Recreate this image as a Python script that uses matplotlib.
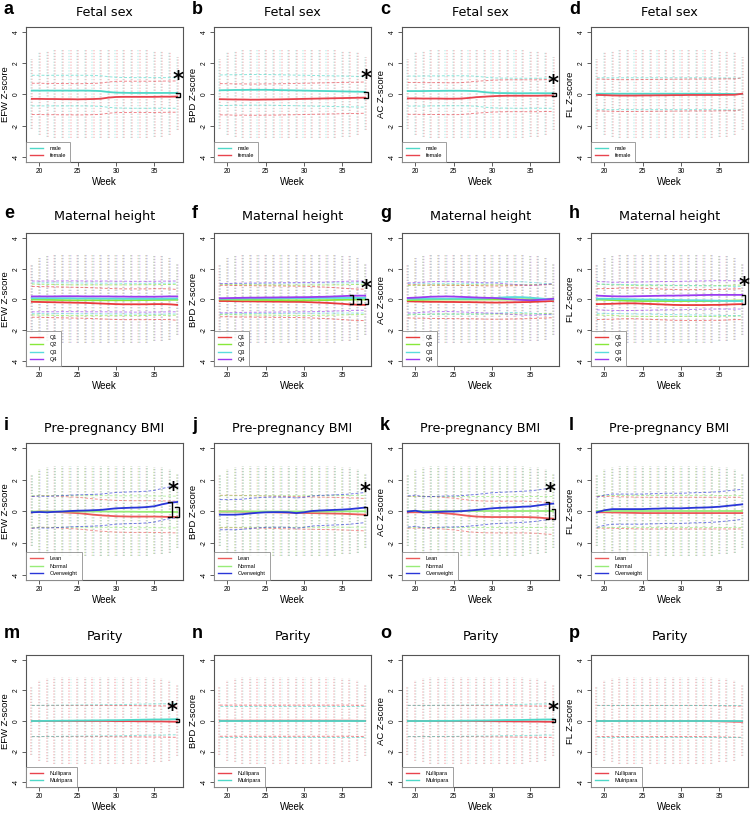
import numpy as np
import matplotlib
matplotlib.use('Agg')
import matplotlib.pyplot as plt

# ---------------- data ----------------
weeks = list(range(19, 39))
x_ticks = [20, 25, 30, 35]
y_ticks = [-4, -2, 0, 2, 4]
row_titles = ['Fetal sex', 'Maternal height', 'Pre-pregnancy BMI', 'Parity']
col_ylabels = ['EFW Z-score', 'BPD Z-score', 'AC Z-score', 'FL Z-score']
panel_letters = list('abcdefghijklmnop')

sex_labels = ['male', 'female']
height_labels = ['Q1', 'Q2', 'Q3', 'Q4']
bmi_labels = ['Lean', 'Normal', 'Overweight']
parity_labels = ['Nullipara', 'Mulripara']

sex_colors = ['#4FD8C8', '#E8444E']
height_colors = ['#E83A3A', '#88E83A', '#5ADCDC', '#9A3CF0']
bmi_colors = ['#EC5A5A', '#98EC78', '#2A36D8']
parity_colors = ['#E8444E', '#4FD8C8']

# extent of the per-week columns of individual measurements
dot_hi = [2.3, 2.7, 2.8, 2.9, 2.9, 2.9, 2.9, 2.9, 2.9, 2.9, 2.9, 2.9, 2.9, 2.9, 2.9, 2.9, 2.8, 2.8, 2.7, 2.4]
dot_lo = [-2.2, -2.6, -2.7, -2.8, -2.8, -2.8, -2.8, -2.8, -2.8, -2.8, -2.8, -2.8, -2.8, -2.8, -2.8, -2.8, -2.7, -2.7, -2.6, -2.3]

# --- Fetal sex ---
a_male = [0.25, 0.25, 0.25, 0.25, 0.25, 0.25, 0.25, 0.25, 0.24, 0.22, 0.16, 0.12, 0.11, 0.10, 0.10, 0.10, 0.10, 0.10, 0.10, 0.10]
a_female = [-0.28, -0.28, -0.29, -0.29, -0.30, -0.30, -0.31, -0.30, -0.29, -0.27, -0.20, -0.16, -0.15, -0.15, -0.15, -0.15, -0.15, -0.14, -0.14, -0.13]
a_sd = [0.98, 1.0]
b_male = [0.27, 0.28, 0.29, 0.29, 0.30, 0.30, 0.30, 0.29, 0.28, 0.27, 0.26, 0.25, 0.24, 0.23, 0.22, 0.21, 0.20, 0.19, 0.18, 0.17]
b_female = [-0.30, -0.31, -0.32, -0.32, -0.33, -0.33, -0.32, -0.32, -0.31, -0.30, -0.29, -0.28, -0.27, -0.26, -0.25, -0.24, -0.23, -0.22, -0.21, -0.20]
b_sd = [0.98, 1.0]
c_male = [0.22, 0.22, 0.22, 0.23, 0.23, 0.24, 0.24, 0.24, 0.23, 0.21, 0.15, 0.11, 0.09, 0.09, 0.08, 0.08, 0.08, 0.08, 0.08, 0.08]
c_female = [-0.25, -0.25, -0.26, -0.26, -0.26, -0.27, -0.27, -0.26, -0.22, -0.17, -0.14, -0.11, -0.09, -0.08, -0.08, -0.08, -0.08, -0.08, -0.07, -0.07]
c_sd = [0.96, 1.02]
d_male = [0.05, 0.05, 0.05, 0.05, 0.05, 0.05, 0.05, 0.05, 0.05, 0.05, 0.05, 0.05, 0.05, 0.05, 0.05, 0.05, 0.04, 0.04, 0.03, 0.03]
d_female = [-0.03, -0.04, -0.06, -0.07, -0.07, -0.07, -0.06, -0.06, -0.05, -0.05, -0.04, -0.04, -0.03, -0.03, -0.03, -0.03, -0.03, -0.02, -0.02, 0.05]
d_sd = [1.02, 1.02]

# --- Maternal height (Q1..Q4) ---
e_q1 = [-0.15, -0.16, -0.17, -0.18, -0.19, -0.20, -0.21, -0.22, -0.24, -0.26, -0.28, -0.30, -0.31, -0.31, -0.31, -0.31, -0.30, -0.30, -0.31, -0.35]
e_q2 = [0.00, -0.01, -0.02, -0.03, -0.04, -0.05, -0.05, -0.05, -0.05, -0.05, -0.05, -0.05, -0.05, -0.05, -0.04, -0.04, -0.03, -0.03, -0.02, -0.02]
e_q3 = [0.08, 0.08, 0.08, 0.08, 0.08, 0.08, 0.07, 0.07, 0.07, 0.06, 0.06, 0.06, 0.05, 0.05, 0.05, 0.05, 0.05, 0.05, 0.06, 0.06]
e_q4 = [0.20, 0.20, 0.20, 0.20, 0.21, 0.21, 0.21, 0.20, 0.20, 0.20, 0.20, 0.19, 0.19, 0.18, 0.18, 0.18, 0.18, 0.19, 0.20, 0.20]
e_sd = [1.0, 1.0, 1.0, 1.0]
f_q1 = [-0.10, -0.10, -0.11, -0.12, -0.12, -0.13, -0.13, -0.14, -0.14, -0.15, -0.15, -0.16, -0.18, -0.20, -0.22, -0.25, -0.28, -0.32, -0.34, -0.35]
f_q2 = [0.00, 0.00, -0.01, -0.02, -0.02, -0.03, -0.03, -0.04, -0.04, -0.05, -0.05, -0.05, -0.05, -0.04, -0.04, -0.03, -0.02, -0.01, 0.00, 0.00]
f_q3 = [0.05, 0.05, 0.06, 0.06, 0.07, 0.07, 0.08, 0.08, 0.08, 0.09, 0.09, 0.09, 0.09, 0.10, 0.10, 0.10, 0.10, 0.10, 0.10, 0.10]
f_q4 = [0.08, 0.09, 0.10, 0.11, 0.12, 0.12, 0.13, 0.13, 0.14, 0.14, 0.15, 0.15, 0.16, 0.17, 0.18, 0.20, 0.22, 0.24, 0.25, 0.25]
f_sd = [1.02, 0.98, 0.98, 0.95]
g_q1 = [-0.12, -0.13, -0.14, -0.15, -0.15, -0.16, -0.16, -0.17, -0.17, -0.18, -0.19, -0.20, -0.20, -0.19, -0.18, -0.17, -0.16, -0.14, -0.12, -0.10]
g_q2 = [-0.05, -0.03, -0.02, -0.01, 0.00, 0.00, 0.00, 0.00, 0.00, 0.00, 0.00, 0.00, 0.00, 0.00, 0.01, 0.01, 0.02, 0.03, 0.04, 0.05]
g_q3 = [0.05, 0.05, 0.05, 0.05, 0.05, 0.05, 0.05, 0.05, 0.05, 0.05, 0.06, 0.08, 0.12, 0.15, 0.16, 0.15, 0.12, 0.08, 0.04, 0.00]
g_q4 = [0.10, 0.12, 0.15, 0.18, 0.19, 0.20, 0.19, 0.17, 0.15, 0.13, 0.11, 0.10, 0.07, 0.03, 0.00, -0.03, -0.05, -0.03, 0.00, 0.05]
g_sd = [1.08, 0.95, 1.0, 0.98]
h_q1 = [-0.30, -0.29, -0.28, -0.26, -0.25, -0.25, -0.27, -0.29, -0.31, -0.33, -0.35, -0.36, -0.36, -0.36, -0.36, -0.35, -0.35, -0.33, -0.31, -0.30]
h_q2 = [0.00, -0.02, -0.04, -0.06, -0.08, -0.09, -0.10, -0.10, -0.10, -0.10, -0.10, -0.10, -0.10, -0.10, -0.10, -0.10, -0.09, -0.08, -0.07, -0.06]
h_q3 = [0.05, 0.05, 0.04, 0.03, 0.02, 0.01, 0.00, 0.00, -0.01, -0.02, -0.03, -0.04, -0.05, -0.05, -0.06, -0.07, -0.08, -0.09, -0.10, -0.10]
h_q4 = [0.25, 0.23, 0.21, 0.20, 0.20, 0.21, 0.22, 0.23, 0.24, 0.25, 0.25, 0.26, 0.27, 0.28, 0.29, 0.30, 0.30, 0.30, 0.30, 0.30]
h_sd = [1.0, 1.0, 0.95, 0.92]

# --- Pre-pregnancy BMI (Lean, Normal, Overweight) ---
i_lean = [-0.05, 0.00, 0.00, -0.02, -0.05, -0.08, -0.10, -0.15, -0.20, -0.24, -0.27, -0.30, -0.31, -0.32, -0.32, -0.32, -0.32, -0.33, -0.34, -0.35]
i_normal = [0.00, 0.00, 0.00, 0.00, 0.00, 0.00, 0.00, 0.00, 0.00, 0.00, 0.00, -0.01, -0.01, -0.01, -0.02, -0.02, -0.02, -0.03, -0.03, -0.03]
i_over = [-0.05, -0.03, -0.05, -0.02, 0.00, 0.03, 0.05, 0.06, 0.08, 0.10, 0.15, 0.20, 0.22, 0.24, 0.25, 0.28, 0.33, 0.45, 0.55, 0.60]
i_sd = [1.0, 1.0, 1.0]
j_lean = [0.00, 0.00, 0.00, -0.01, -0.02, -0.03, -0.04, -0.05, -0.06, -0.07, -0.08, -0.09, -0.10, -0.11, -0.12, -0.13, -0.14, -0.16, -0.18, -0.20]
j_normal = [0.00, 0.00, 0.00, 0.00, 0.00, 0.00, 0.00, 0.00, 0.00, 0.00, 0.00, 0.00, 0.00, 0.00, 0.00, 0.01, 0.01, 0.01, 0.01, 0.01]
j_over = [-0.20, -0.20, -0.20, -0.17, -0.12, -0.08, -0.05, -0.04, -0.04, -0.05, -0.10, -0.05, 0.03, 0.06, 0.08, 0.10, 0.12, 0.15, 0.20, 0.25]
j_sd = [1.02, 1.0, 0.95]
k_lean = [-0.05, -0.05, -0.05, -0.05, -0.08, -0.12, -0.16, -0.22, -0.28, -0.32, -0.34, -0.35, -0.35, -0.35, -0.35, -0.35, -0.36, -0.38, -0.42, -0.45]
k_normal = [0.00, 0.00, 0.00, 0.00, 0.00, 0.00, 0.00, 0.00, 0.00, 0.00, 0.00, 0.00, 0.00, 0.00, 0.00, 0.00, 0.00, 0.00, 0.00, 0.00]
k_over = [0.00, 0.05, -0.05, -0.04, -0.02, 0.00, 0.00, 0.02, 0.06, 0.10, 0.15, 0.20, 0.23, 0.25, 0.27, 0.30, 0.32, 0.38, 0.45, 0.50]
k_sd = [1.0, 1.0, 0.98]
l_lean = [-0.05, -0.05, -0.06, -0.07, -0.08, -0.09, -0.10, -0.10, -0.10, -0.10, -0.10, -0.10, -0.10, -0.10, -0.10, -0.10, -0.10, -0.10, -0.10, -0.10]
l_normal = [0.02, 0.02, 0.02, 0.02, 0.02, 0.02, 0.02, 0.02, 0.02, 0.02, 0.02, 0.02, 0.02, 0.02, 0.02, 0.02, 0.02, 0.02, 0.02, 0.02]
l_over = [-0.05, 0.08, 0.15, 0.15, 0.15, 0.15, 0.15, 0.17, 0.18, 0.20, 0.20, 0.20, 0.22, 0.24, 0.25, 0.27, 0.30, 0.35, 0.40, 0.45]
l_sd = [1.0, 1.0, 0.95]

# --- Parity (Nullipara, Multipara) ---
m_null = [0.00, 0.00, 0.00, 0.00, 0.00, 0.00, 0.00, 0.00, 0.00, 0.00, 0.00, -0.01, -0.01, -0.01, -0.02, -0.02, -0.03, -0.03, -0.04, -0.05]
m_multi = [0.00, 0.00, 0.01, 0.01, 0.02, 0.02, 0.03, 0.03, 0.04, 0.04, 0.05, 0.05, 0.06, 0.07, 0.08, 0.09, 0.10, 0.10, 0.11, 0.12]
m_sd = [1.02, 1.02]
n_null = [0.02, 0.02, 0.02, 0.02, 0.02, 0.02, 0.02, 0.02, 0.02, 0.02, 0.02, 0.02, 0.02, 0.02, 0.02, 0.02, 0.02, 0.02, 0.01, 0.01]
n_multi = [-0.01, -0.01, -0.01, -0.01, -0.01, -0.01, -0.01, -0.01, -0.01, -0.01, -0.01, -0.01, -0.01, -0.01, -0.01, -0.01, -0.01, -0.01, -0.01, -0.01]
n_sd = [1.02, 1.02]
o_null = [0.00, 0.00, 0.00, 0.00, 0.00, 0.00, 0.00, 0.00, 0.00, 0.00, -0.01, -0.01, -0.02, -0.02, -0.03, -0.03, -0.04, -0.04, -0.05, -0.05]
o_multi = [0.00, 0.00, 0.00, 0.00, 0.01, 0.01, 0.01, 0.02, 0.02, 0.03, 0.03, 0.04, 0.05, 0.06, 0.06, 0.07, 0.08, 0.09, 0.10, 0.10]
o_sd = [1.02, 1.02]
p_null = [0.00, 0.00, 0.00, 0.00, 0.00, 0.00, 0.00, 0.00, 0.00, 0.00, 0.00, 0.00, 0.00, 0.00, 0.00, -0.01, -0.02, -0.03, -0.04, -0.05]
p_multi = [0.00, 0.00, 0.00, 0.00, 0.00, 0.00, 0.00, 0.00, 0.00, 0.00, 0.00, 0.00, 0.00, 0.00, 0.00, 0.00, 0.00, 0.00, 0.00, 0.00]
p_sd = [1.02, 1.02]

# significance annotations: brackets (week, top, bottom) and star (week, z)
brackets = {
    'a': [(38.35, 0.10, -0.13)], 'b': [(38.35, 0.17, -0.20)], 'c': [(38.35, 0.08, -0.07)],
    'f': [(36.4, 0.28, -0.32), (37.4, 0.06, -0.32), (38.4, 0.0, -0.32)],
    'h': [(38.4, 0.30, -0.30)],
    'i': [(37.3, 0.57, -0.35), (38.2, 0.27, -0.37)],
    'j': [(38.3, 0.30, -0.22)],
    'k': [(37.5, 0.60, -0.45), (38.25, 0.15, -0.45)],
    'm': [(38.3, 0.14, -0.06)], 'o': [(38.3, 0.11, -0.06)],
}
stars = {'a': (38.1, 0.95), 'b': (38.1, 1.0), 'c': (38.0, 0.7), 'f': (38.1, 0.65),
         'h': (38.2, 0.9), 'i': (37.5, 1.3), 'j': (38.0, 1.2), 'k': (37.6, 1.25),
         'm': (37.3, 0.68), 'o': (38.0, 0.65)}

# ---------------- assemble panels ----------------
rows = [
    (sex_labels, sex_colors, [(a_male, a_female, a_sd), (b_male, b_female, b_sd),
                              (c_male, c_female, c_sd), (d_male, d_female, d_sd)]),
    (height_labels, height_colors, [(e_q1, e_q2, e_q3, e_q4, e_sd), (f_q1, f_q2, f_q3, f_q4, f_sd),
                                    (g_q1, g_q2, g_q3, g_q4, g_sd), (h_q1, h_q2, h_q3, h_q4, h_sd)]),
    (bmi_labels, bmi_colors, [(i_lean, i_normal, i_over, i_sd), (j_lean, j_normal, j_over, j_sd),
                              (k_lean, k_normal, k_over, k_sd), (l_lean, l_normal, l_over, l_sd)]),
    (parity_labels, parity_colors, [(m_null, m_multi, m_sd), (n_null, n_multi, n_sd),
                                    (o_null, o_multi, o_sd), (p_null, p_multi, p_sd)]),
]
dot_alpha = [[0.26, 0.26], [0.18, 0.18, 0.18, 0.18], [0.16, 0.42, 0.14], [0.3, 0.16]]

W, H = 754, 813
fig = plt.figure(figsize=(W / 100, H / 100), dpi=100)
col_left = [26, 214, 402, 591]
col_w = 157
row_top = [27, 233, 443, 655]
row_h = [135, 133, 137, 132]
title_pad = [8, 9.5, 8, 11]

axfont = 'Liberation Sans'
wk = np.array(weeks, dtype=float)

for r, (labels, colors, panels) in enumerate(rows):
    for c, pdata in enumerate(panels):
        letter = panel_letters[r * 4 + c]
        means = pdata[:-1]
        sds = pdata[-1]
        ax = fig.add_axes([col_left[c] / W, 1 - (row_top[r] + row_h[r]) / H, col_w / W, row_h[r] / H])
        ng = len(means)
        offs = np.linspace(-0.08, 0.08, ng) if ng > 1 else [0]
        # columns of individual measurements
        for g in range(ng):
            ax.vlines(wk + offs[g], dot_lo, dot_hi, colors=colors[g], alpha=dot_alpha[r][g],
                      linewidth=1.3, linestyles=(0, (0.7, 0.9)), zorder=1)
        # +/- 1 SD dashed lines and mean lines
        for g in range(ng):
            mu = np.array(means[g])
            sd = sds[g]
            ax.plot(wk, mu + sd, color=colors[g], lw=0.7, ls=(0, (3, 2)), alpha=0.65, zorder=2)
            ax.plot(wk, mu - sd, color=colors[g], lw=0.7, ls=(0, (3, 2)), alpha=0.65, zorder=2)
        handles = []
        for g in range(ng):
            hl, = ax.plot(wk, means[g], color=colors[g], lw=1.3, zorder=3, label=labels[g])
            handles.append(hl)
        # significance
        for (bx, bt, bb) in brackets.get(letter, []):
            ax.plot([bx - 0.45, bx, bx, bx - 0.45], [bt, bt, bb, bb], color='black', lw=1.0,
                    zorder=5, clip_on=False, solid_joinstyle='miter')
        if letter in stars:
            sx, sy = stars[letter]
            ax.text(sx, sy, '*', fontsize=15, fontweight='bold', ha='center', va='center',
                    family='DejaVu Sans', zorder=6)

        ax.set_xlim(18.24, 38.76)
        ax.set_ylim(-4.32, 4.32)
        ax.set_xticks(x_ticks)
        ax.set_yticks(y_ticks)
        ax.set_xticklabels([str(t) for t in x_ticks], fontsize=4.8, family=axfont)
        ax.set_yticklabels([str(t) for t in y_ticks], fontsize=4.8, family=axfont,
                           rotation=90, va='center')
        ax.tick_params(direction='out', length=3, width=0.6, color='#444444', pad=1.5)
        for sp in ax.spines.values():
            sp.set_linewidth(0.8)
            sp.set_color('#555555')
        ax.set_xlabel('Week', fontsize=7, family=axfont, labelpad=1.2)
        ax.set_ylabel(col_ylabels[c], fontsize=6.8, family=axfont, labelpad=1.8)
        ax.set_title(row_titles[r], fontsize=9.2, family='DejaVu Sans', pad=title_pad[r])
        leg = ax.legend(handles=handles, loc='lower left', borderaxespad=0, frameon=True,
                        fancybox=False, prop={'family': axfont, 'size': 4},
                        handlelength=2.4, handletextpad=1.2, borderpad=0.7, labelspacing=0.45)
        leg.get_frame().set_edgecolor('#888888')
        leg.get_frame().set_linewidth(0.7)
        for lh in leg.get_lines():
            lh.set_linewidth(1.0)
        # panel letter
        fig.text(max(col_left[c] - 22, 1) / W, 1 - (row_top[r] - title_pad[r] * 100 / 72 - 2) / H, letter,
                 fontsize=13, fontweight='bold', family=axfont, ha='left', va='baseline')

fig.savefig('out.png', dpi=100)
